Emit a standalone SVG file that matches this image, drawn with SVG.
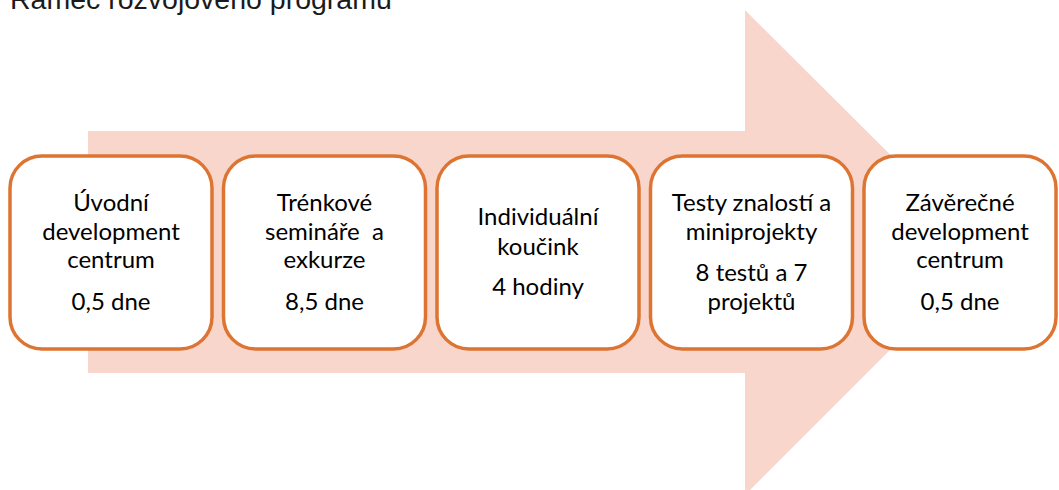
<svg xmlns="http://www.w3.org/2000/svg" width="1059" height="490" viewBox="0 0 1059 490">
<style>
.box{fill:#fff;stroke:#DD7431;stroke-width:3.5}
.t{font-family:Lato,"Noto Sans",sans-serif;font-size:24px;fill:#000;text-anchor:middle}
.title{font-family:"Liberation Sans",Arial,sans-serif;font-size:28.5px;fill:#1a1a1a}
</style>
<rect width="1059" height="490" fill="#fff"/>
<text class="title" x="10" y="9">Rámec rozvojového programu</text>
<polygon id="arrow" points="88,131 745,131 745,10 988,252 745,495 745,373 88,373" fill="#F8D6CC"/>
<g id="n1">
<rect class="box" x="10" y="156" width="202" height="193" rx="32"/>
<text class="t"><tspan x="111" y="211">Úvodní</tspan><tspan x="111" y="240">development</tspan><tspan x="111" y="268">centrum</tspan><tspan x="111" y="310">0,5 dne</tspan></text>
</g>
<g id="n2">
<rect class="box" x="223.5" y="156" width="202" height="193" rx="32"/>
<text class="t"><tspan x="324.5" y="211">Trénkové</tspan><tspan x="324.5" y="240" xml:space="preserve">semináře  a</tspan><tspan x="324.5" y="268">exkurze</tspan><tspan x="324.5" y="310">8,5 dne</tspan></text>
</g>
<g id="n3">
<rect class="box" x="437" y="156" width="202" height="193" rx="32"/>
<text class="t"><tspan x="538" y="225">Individuální</tspan><tspan x="538" y="255">koučink</tspan><tspan x="538" y="295">4 hodiny</tspan></text>
</g>
<g id="n4">
<rect class="box" x="650.5" y="156" width="202" height="193" rx="32"/>
<text class="t"><tspan x="751.5" y="211">Testy znalostí a</tspan><tspan x="751.5" y="240">miniprojekty</tspan><tspan x="751.5" y="281">8 testů a 7</tspan><tspan x="751.5" y="310">projektů</tspan></text>
</g>
<g id="n5">
<rect class="box" x="864" y="156" width="192" height="193" rx="32"/>
<text class="t"><tspan x="960" y="211">Závěrečné</tspan><tspan x="960" y="240">development</tspan><tspan x="960" y="268">centrum</tspan><tspan x="960" y="310">0,5 dne</tspan></text>
</g>
<g id="connectors"></g>
</svg>
